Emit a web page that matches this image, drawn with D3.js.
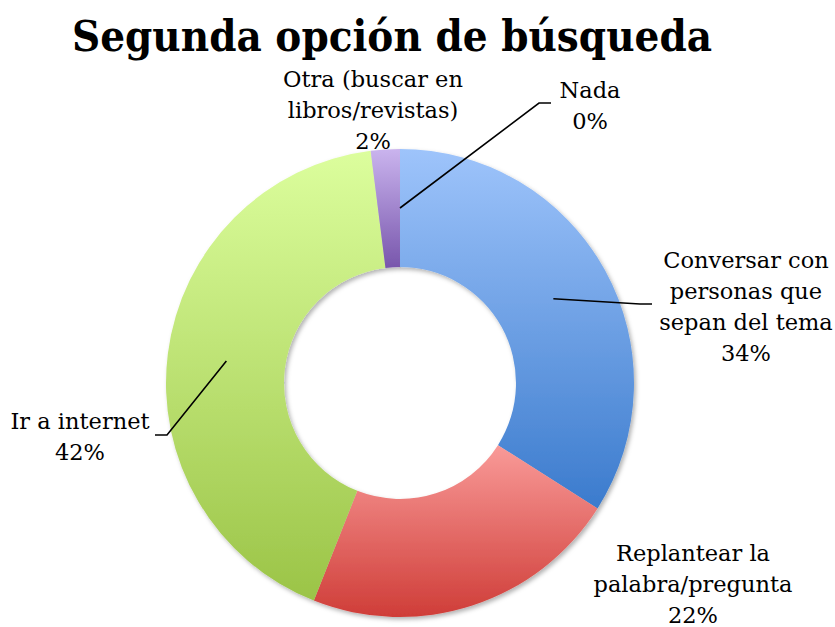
<!DOCTYPE html>
<html><head><meta charset="utf-8">
<script src="https://cdn.jsdelivr.net/npm/d3@7"></script>
<style>html,body{margin:0;padding:0;background:#fff;}svg{display:block;}</style>
</head><body>
<svg id="c" width="835" height="627"></svg>
<script>
const title = "Segunda opción de búsqueda";
const categories = ["Conversar con personas que sepan del tema", "Replantear la palabra/pregunta", "Ir a internet", "Otra (buscar en libros/revistas)", "Nada"];
const values = [34, 22, 42, 2, 0];
const labelLines = [["Conversar con", "personas que", "sepan del tema"], ["Replantear la", "palabra/pregunta"], ["Ir a internet"], ["Otra (buscar en", "libros/revistas)"], ["Nada"]];
const colorsTop = ["#9ec4fb", "#f99a98", "#dcfe9d", "#cab4ee", "#cab4ee"];
const colorsBottom = ["#3b7bcd", "#cf3d38", "#9bc447", "#7856ac", "#7856ac"];

const svg = d3.select("#c");
const cx = 400, cy = 383, rOuter = 234, rInner = 116;
const font = "'DejaVu Serif', serif";
const fs = 22.5, lh = 31;

const defs = svg.append("defs");
const f = defs.append("filter").attr("id","sh").attr("x","-10%").attr("y","-10%").attr("width","120%").attr("height","120%");
f.append("feDropShadow").attr("dx",2).attr("dy",2.5).attr("stdDeviation",2).attr("flood-color","#000").attr("flood-opacity",0.3);

values.forEach((v,i)=>{
  const g = defs.append("linearGradient").attr("id","g"+i).attr("x1",0).attr("y1",0).attr("x2",0).attr("y2",1);
  g.append("stop").attr("offset","0%").attr("stop-color",colorsTop[i]);
  g.append("stop").attr("offset","100%").attr("stop-color",colorsBottom[i]);
});

const pie = d3.pie().sort(null).value(d=>d);
const arcs = pie(values);
const arc = d3.arc().innerRadius(rInner).outerRadius(rOuter);
const arcMid = d3.arc().innerRadius((rInner+rOuter)/2).outerRadius((rInner+rOuter)/2);

const gp = svg.append("g").attr("transform",`translate(${cx},${cy})`).attr("filter","url(#sh)");
gp.selectAll("path").data(arcs.filter(a=>a.value>0)).join("path")
  .attr("d",arc).attr("fill",d=>`url(#g${d.index})`);

svg.append("text").attr("x",392).attr("y",51).attr("text-anchor","middle")
  .attr("font-family",font).attr("font-weight","bold").attr("font-size",42)
  .attr("textLength",640).attr("lengthAdjust","spacingAndGlyphs")
  .attr("fill","#000").text(title);

const layout = [
  {x:746, y:268, leader:[[640,304],[652,304]]},
  {x:693, y:561, leader:null},
  {x:80, y:429, leader:[[167,435],[155,435]]},
  {x:373, y:87, leader:null},
  {x:590, y:98, leader:[[539,103],[551,103]]}
];

arcs.forEach((a,i)=>{
  const L = layout[i];
  const lines = labelLines[i].concat([d3.format(".0%")(a.value/100)]);
  const t = svg.append("text").attr("text-anchor","middle").attr("font-family",font)
    .attr("font-size",fs).attr("fill","#000");
  lines.forEach((s,k)=>t.append("tspan").attr("x",L.x).attr("y",L.y+k*lh).text(s));
  if(L.leader){
    const c = arcMid.centroid(a);
    const pts = [[cx+c[0], cy+c[1]]].concat(L.leader);
    svg.append("path").attr("d",d3.line()(pts)).attr("fill","none").attr("stroke","#000").attr("stroke-width",1.6);
  }
});
</script>
</body></html>
